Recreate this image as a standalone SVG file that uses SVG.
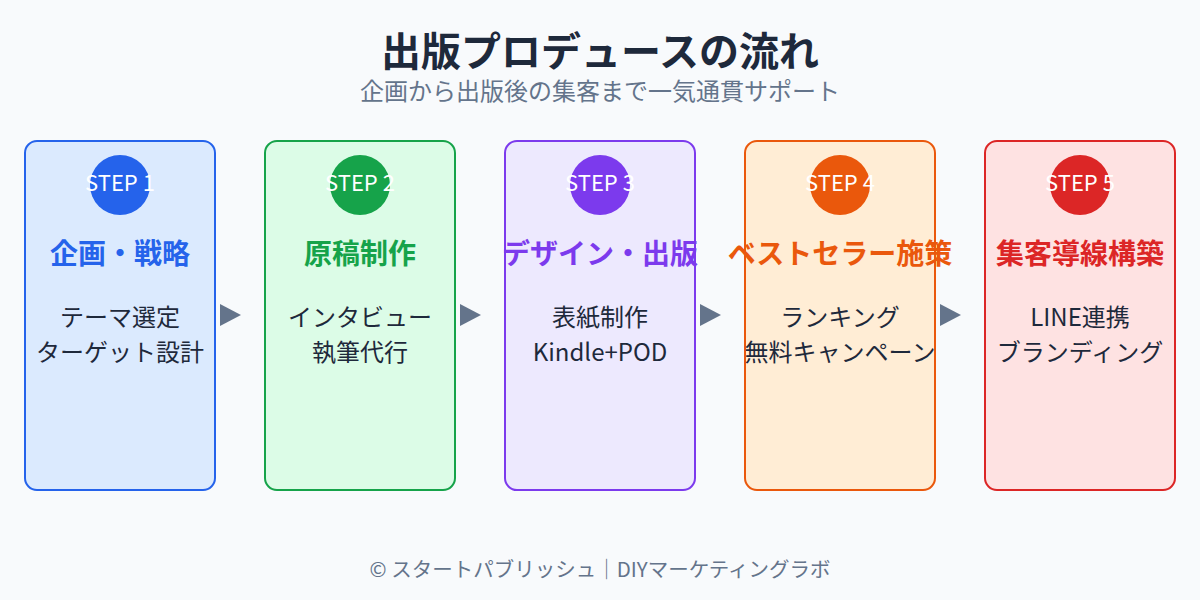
<svg xmlns="http://www.w3.org/2000/svg" width="1200" height="600" viewBox="0 0 1200 600">
<style>
text{font-family:"Noto Sans CJK JP","Noto Sans",sans-serif;text-anchor:middle}
.title{font-size:40px;font-weight:700;fill:#1e293b}
.sub{font-size:24px;fill:#64748b}
.foot{font-size:20.5px;fill:#64748b}
.box{stroke-width:2}
.step{font-size:22px;fill:#ffffff}
.head{font-size:28px;font-weight:700}
.body{font-size:24px;fill:#1e293b}
.arrow{fill:#64748b}
</style>
<rect width="1200" height="600" fill="#f8fafc"/>
<text class="title" x="600" y="66">出版プロデュースの流れ</text>
<text class="sub" x="600" y="100">企画から出版後の集客まで一気通貫サポート</text>

<g id="step1">
<rect class="box" x="25" y="141" width="190" height="349" rx="12" fill="#dbeafe" stroke="#2563eb"/>
<circle cx="120" cy="185" r="30" fill="#2563eb"/>
<text class="step" x="120" y="191">STEP 1</text>
<text class="head" x="120" y="264" fill="#2563eb">企画・戦略</text>
<text class="body" x="120" y="326">テーマ選定</text>
<text class="body" x="120" y="361">ターゲット設計</text>
</g>
<g id="step2">
<rect class="box" x="265" y="141" width="190" height="349" rx="12" fill="#dcfce7" stroke="#16a34a"/>
<circle cx="360" cy="185" r="30" fill="#16a34a"/>
<text class="step" x="360" y="191">STEP 2</text>
<text class="head" x="360" y="264" fill="#16a34a">原稿制作</text>
<text class="body" x="360" y="326">インタビュー</text>
<text class="body" x="360" y="361">執筆代行</text>
</g>
<g id="step3">
<rect class="box" x="505" y="141" width="190" height="349" rx="12" fill="#ede9fe" stroke="#7c3aed"/>
<circle cx="600" cy="185" r="30" fill="#7c3aed"/>
<text class="step" x="600" y="191">STEP 3</text>
<text class="head" x="600" y="264" fill="#7c3aed">デザイン・出版</text>
<text class="body" x="600" y="326">表紙制作</text>
<text class="body" x="600" y="361">Kindle+POD</text>
</g>
<g id="step4">
<rect class="box" x="745" y="141" width="190" height="349" rx="12" fill="#ffedd5" stroke="#ea580c"/>
<circle cx="840" cy="185" r="30" fill="#ea580c"/>
<text class="step" x="840" y="191">STEP 4</text>
<text class="head" x="840" y="264" fill="#ea580c">ベストセラー施策</text>
<text class="body" x="840" y="326">ランキング</text>
<text class="body" x="840" y="361">無料キャンペーン</text>
</g>
<g id="step5">
<rect class="box" x="985" y="141" width="190" height="349" rx="12" fill="#fee2e2" stroke="#dc2626"/>
<circle cx="1080" cy="185" r="30" fill="#dc2626"/>
<text class="step" x="1080" y="191">STEP 5</text>
<text class="head" x="1080" y="264" fill="#dc2626">集客導線構築</text>
<text class="body" x="1080" y="326">LINE連携</text>
<text class="body" x="1080" y="361">ブランディング</text>
</g>

<g id="connectors">
<polygon class="arrow" points="220,304 241,315 220,326"/>
<polygon class="arrow" points="460,304 481,315 460,326"/>
<polygon class="arrow" points="700,304 721,315 700,326"/>
<polygon class="arrow" points="940,304 961,315 940,326"/>
</g>

<text class="foot" x="600" y="577">© スタートパブリッシュ｜DIYマーケティングラボ</text>
</svg>
